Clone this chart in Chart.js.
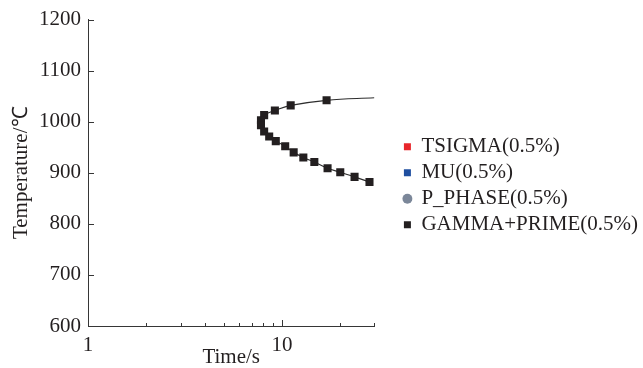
<!DOCTYPE html>
<html>
<head>
<meta charset="utf-8">
<script src="https://cdn.jsdelivr.net/npm/chart.js@4/dist/chart.umd.min.js"></script>
<style>
  html, body { margin: 0; padding: 0; background: #ffffff; overflow: hidden; }
  #wrap { width: 643px; height: 368px; }
</style>
</head>
<body>
<div id="wrap"><canvas id="c" width="643" height="368"></canvas></div>
<script>
// Legend entries
const seriesNames = ['TSIGMA(0.5%)', 'MU(0.5%)', 'P_PHASE(0.5%)', 'GAMMA+PRIME(0.5%)'];
const seriesColors = ['#e8262b', '#1f4fa0', '#7b8799', '#231f20'];
const seriesStyles = ['rect', 'rect', 'circle', 'rect'];

// GAMMA+PRIME(0.5%) C-curve: time (s) and temperature (°C)
const gammaTime = [17.0, 11.1, 9.2, 8.1, 7.8, 7.8, 8.1, 8.6, 9.3, 10.4, 11.5, 12.9, 14.7, 17.2, 20.0, 23.7, 28.3];
const gammaTemp = [1042, 1032, 1022, 1013, 1003, 993, 981, 971, 962, 952, 940, 930, 921, 909, 901, 892, 882];

// The fitted line runs on past the last upper point to the end of the time axis
const curveEndTime = 30;
const curveEndTemp = 1047;

// Axis ranges and labelled ticks
const timeMin = 1, timeMax = 30;
const tempMin = 600, tempMax = 1200, tempStep = 100;
const timeLabels = [1, 10];

const FONT = '"Liberation Serif", "Times New Roman", serif';
const INK = '#231f20';
const AXIS = '#363636';

const points = gammaTime.map((t, i) => ({ x: t, y: gammaTemp[i] }));
const curve = [{ x: curveEndTime, y: curveEndTemp }].concat(points);

const datasets = seriesNames.map((name, i) => ({
  label: name,
  data: i === 3 ? points : [],
  showLine: false,
  pointStyle: seriesStyles[i],
  backgroundColor: seriesColors[i],
  borderColor: seriesColors[i],
  borderWidth: 0,
  pointBorderWidth: 0,
  pointRadius: 5.7,
  order: 0
}));
datasets.push({
  label: 'curve',
  isCurve: true,
  data: curve,
  showLine: true,
  tension: 0.4,
  borderColor: '#2e2e2e',
  borderWidth: 1.2,
  pointRadius: 0,
  order: 1
});

// Inward tick marks: long at decades, short at 2..9 multiples; 100 °C steps on y
const inwardTicks = {
  id: 'inwardTicks',
  afterDraw(chart) {
    const { ctx, chartArea, scales } = chart;
    ctx.save();
    ctx.strokeStyle = AXIS;
    ctx.lineWidth = 1;
    ctx.beginPath();
    scales.x.ticks.forEach(tk => {
      const lg = Math.log10(tk.value);
      const sig = tk.value / Math.pow(10, Math.floor(lg + 1e-9));
      if (Math.abs(sig - Math.round(sig)) > 1e-6) return;
      const px = Math.round(scales.x.getPixelForValue(tk.value)) + 0.5;
      const len = Math.round(sig) === 1 ? 6 : 3;
      ctx.moveTo(px, chartArea.bottom);
      ctx.lineTo(px, chartArea.bottom - len);
    });
    scales.y.ticks.forEach(tk => {
      const py = Math.round(scales.y.getPixelForValue(tk.value)) + 0.5;
      ctx.moveTo(chartArea.left, py);
      ctx.lineTo(chartArea.left + 6, py);
    });
    ctx.stroke();
    ctx.restore();
  }
};

new Chart(document.getElementById('c'), {
  type: 'scatter',
  data: { datasets },
  options: {
    responsive: false,
    animation: false,
    devicePixelRatio: 1,
    layout: { padding: { left: 0, top: 19, right: -5, bottom: 0 } },
    plugins: {
      tooltip: { enabled: false },
      legend: {
        position: 'right',
        fullSize: false,
        maxWidth: 270,
        title: { display: true, text: ' ', font: { size: 10, lineHeight: 1.2 }, padding: 7 },
        labels: {
          usePointStyle: true,
          boxWidth: 7,
          boxHeight: 7,
          padding: 5,
          color: INK,
          font: { family: FONT, size: 21 },
          filter: (item, data) => !data.datasets[item.datasetIndex].isCurve
        }
      }
    },
    scales: {
      x: {
        type: 'logarithmic',
        min: timeMin,
        max: timeMax,
        grid: { display: false, drawTicks: false },
        border: { display: true, color: AXIS, width: 1 },
        ticks: {
          autoSkip: false,
          maxRotation: 0,
          padding: 7,
          color: INK,
          font: { family: FONT, size: 21 },
          callback: v => timeLabels.includes(v) ? String(v) : ''
        },
        title: {
          display: true,
          text: 'Time/s',
          color: INK,
          font: { family: FONT, size: 21, lineHeight: 1 },
          padding: 0
        },
        afterFit: s => { s.height = 42; }
      },
      y: {
        min: tempMin,
        max: tempMax,
        grid: { display: false, drawTicks: false },
        border: { display: true, color: AXIS, width: 1 },
        ticks: {
          stepSize: tempStep,
          padding: 7,
          color: INK,
          font: { family: FONT, size: 21 },
          callback: v => String(v)
        },
        title: {
          display: true,
          text: 'Temperature/℃',
          color: INK,
          font: { family: FONT, size: 21, lineHeight: 1 },
          padding: { top: 11, bottom: 0 }
        },
        afterFit: s => { s.width = 88; }
      },
      gap: {
        type: 'linear',
        position: 'right',
        grid: { display: false, drawTicks: false },
        border: { display: false },
        ticks: { display: false },
        afterFit: s => { s.width = 24.5; }
      }
    }
  },
  plugins: [inwardTicks]
});
</script>
</body>
</html>
